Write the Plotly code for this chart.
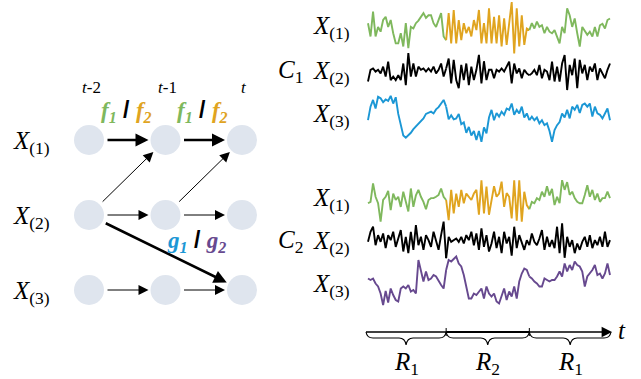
import plotly.graph_objects as go

W, H = 641, 379

# ---------------- data ----------------
time_labels = ["<i>t</i>-2", "<i>t</i>-1", "<i>t</i>"]
row_subs = ["(1)", "(2)", "(3)"]
node_cols = [0, 1, 2]
node_rows = [0, 1, 2]
# edges: (row_from, col_from, row_to, col_to, thick)
edges = [
    (0, 0, 0, 1, True), (0, 1, 0, 2, True),
    (1, 0, 1, 1, False), (1, 1, 1, 2, False),
    (2, 0, 2, 1, False), (2, 1, 2, 2, False),
    (1, 0, 0, 1, False), (1, 1, 0, 2, False),
    (1, 0, 2, 2, True),
]
regime_bounds = [0, 31, 64, 96]
regime_names = ["1", "2", "1"]

c1_x1 = [6.0, 3.5, 8.2, 3.5, 5.3, 4.4, 6.6, 7.2, 5.3, 6.6, 4.1, 2.2, 2.2, 4.1, 1.6, 6.0,
         1.3, 5.3, 5.0, 6.0, 6.5, 7.2, 7.9, 7.0, 7.5, 7.5, 6.0, 5.3, 6.5, 7.9, 3.5, 2.8,
         7.9, 2.2, 8.5, 2.2, 6.6, 2.8, 6.0, 4.1, 5.3, 3.5, 6.6, 4.7, 8.5, 2.2, 6.0, 2.2,
         8.8, 2.2, 7.2, 2.2, 7.5, 1.6, 6.9, 1.9, 6.0, 10.0, 0.3, 8.8, 1.6, 7.5, 1.9, 5.0, 4.7,
         6.0, 5.0, 6.3, 5.3, 5.6, 4.1, 5.3, 4.4, 4.1, 4.7, 3.5, 2.2, 5.3, 4.1, 8.8, 7.5,
         5.3, 6.9, 4.1, 1.6, 5.3, 4.4, 3.8, 4.4, 3.5, 5.3, 3.5, 5.6, 5.9, 5.0, 6.6, 6.9]
c1_x2 = [3.0, 5.6, 5.9, 5.2, 5.6, 4.8, 6.3, 4.1, 7.4, 3.3, 4.1, 3.3, 4.4, 3.3, 7.0, 2.2,
         9.3, 4.1, 7.0, 4.1, 6.3, 5.6, 5.9, 5.2, 5.9, 5.2, 6.3, 4.8, 5.6, 7.0, 4.1, 5.9,
         8.1, 2.6, 7.8, 3.3, 1.5, 6.7, 3.3, 7.0, 2.2, 6.3, 3.3, 5.6, 8.9, 2.6, 7.5, 3.3, 5.6,
         5.6, 3.7, 5.6, 5.2, 5.9, 5.2, 6.3, 7.4, 2.6, 7.0, 4.8, 5.9, 3.7, 5.6, 4.8, 4.4,
         4.8, 5.6, 4.4, 6.7, 3.7, 5.6, 5.2, 3.3, 7.4, 3.0, 6.3, 3.0, 7.0, 8.9, 1.1, 6.7,
         4.4, 8.1, 1.5, 7.8, 4.8, 6.7, 3.3, 6.3, 5.2, 7.0, 3.3, 5.9, 4.8, 3.7, 5.6, 7.0]
c1_x3 = [4.4, 7.4, 8.9, 7.0, 9.6, 9.3, 8.4, 9.0, 8.7, 9.8, 8.1, 9.5, 5.8, 3.5, 1.0, 0.5,
         1.0, 1.6, 2.4, 3.0, 3.5, 4.2, 4.8, 5.8, 6.0, 6.3, 5.9, 6.8, 7.3, 8.1, 8.9, 7.4,
         4.6, 5.5, 4.6, 4.8, 5.8, 3.5, 3.9, 1.6, 2.9, 1.0, 2.0, 0.0, 2.0, -0.4, 2.8, 1.5, 5.0,
         6.7, 4.4, 6.0, 5.2, 6.3, 5.6, 7.0, 6.7, 8.1, 5.6, 6.7, 5.9, 7.4, 5.0, 5.9, 4.4,
         5.2, 4.4, 5.0, 3.7, 4.4, 3.3, 3.7, 2.0, -0.4, 2.2, 3.3, 4.0, 5.9, 5.0, 6.7, 4.8,
         7.4, 6.7, 7.8, 6.0, 7.8, 8.1, 7.4, 8.1, 5.2, 7.4, 5.9, 5.6, 4.8, 5.9, 7.0, 4.4]
c2_x1 = [4.3, 4.6, 8.6, 5.7, 4.3, 0.3, 5.0, 5.7, 7.0, 2.8, 6.4, 5.0, 5.7, 3.5, 6.8, 4.3,
         2.5, 7.5, 3.5, 6.0, 7.2, 5.7, 4.6, 3.0, 5.0, 5.4, 5.4, 5.7, 6.1, 7.5, 5.7, 5.0,
         0.6, 7.2, 2.1, 6.4, 3.5, 7.2, 4.3, 6.4, 5.7, 5.0, 6.4, 7.2, 1.8, 9.3, 2.1, 7.9,
         1.8, 5.0, 8.0, 5.7, 6.4, 9.0, 3.5, 6.5, 5.7, 1.0, 9.3, 0.5, 9.3, 0.3, 6.8, 3.9, 3.0,
         4.6, 4.3, 5.4, 5.0, 6.8, 5.7, 8.0, 6.0, 7.4, 3.9, 5.7, 4.3, 9.3, 7.2, 8.9, 6.1,
         6.8, 5.4, 4.6, 4.3, 4.3, 6.1, 8.2, 5.7, 7.2, 5.0, 6.4, 4.6, 5.4, 5.4, 6.8, 5.4]
c2_x2 = [4.8, 7.2, 8.4, 4.0, 6.4, 4.8, 6.8, 3.3, 6.4, 5.2, 7.2, 3.6, 5.6, 7.6, 2.5, 6.0,
         2.1, 7.2, 2.9, 8.8, 4.0, 6.0, 2.9, 6.4, 5.2, 3.6, 7.2, 5.2, 2.9, 6.4, 9.6, 0.9,
         6.0, 4.8, 5.2, 5.6, 4.8, 6.0, 4.4, 6.4, 5.2, 7.2, 4.0, 6.8, 2.9, 8.0, 3.6, 6.4, 2.5,
         4.4, 7.2, 3.3, 6.0, 2.1, 7.2, 4.4, 6.0, 1.5, 8.4, 3.3, 6.4, 4.4, 2.9, 5.2, 4.0,
         6.8, 4.8, 4.0, 5.6, 7.6, 2.9, 6.0, 3.6, 5.2, 3.3, 8.4, 2.1, 9.2, 1.0, 6.0, 3.6,
         5.2, 2.1, 4.4, 2.9, 4.8, 6.0, 3.6, 6.4, 3.3, 5.2, 4.0, 6.0, 3.6, 7.2, 3.6, 5.2]
c2_x3 = [5.3, 5.0, 5.3, 4.3, 3.7, 2.3, 0.0, 2.8, 0.5, 3.3, 2.0, 1.0, 0.7, 3.3, 3.7, 3.3,
         4.0, 2.7, 3.0, 2.3, 9.0, 7.0, 4.7, 6.7, 5.0, 5.3, 6.0, 5.7, 4.7, 4.0, 3.3, 7.0,
         9.0, 8.7, 9.3, 9.7, 8.3, 7.7, 6.0, 3.3, 1.3, 1.3, 2.3, 2.0, 2.7, 3.3, 1.3, 3.7, 2.3,
         1.7, 2.3, 0.7, 0.3, 1.7, 3.3, 1.0, 2.7, 1.7, 3.7, 1.3, 4.7, 6.3, 7.3, 7.0, 5.7,
         5.3, 4.7, 4.3, 3.7, 3.7, 5.3, 5.0, 4.7, 5.0, 5.0, 5.7, 6.7, 5.7, 8.3, 6.7, 8.0,
         7.0, 8.7, 8.0, 7.7, 6.7, 3.7, 5.7, 6.3, 7.0, 8.0, 6.0, 6.3, 5.3, 6.3, 8.3, 6.0]

# ---------------- style / geometry ----------------
GREEN = "#7fb85d"
ORANGE = "#e0a41f"
BLUE = "#1b97d5"
PURPLE = "#67498f"
BLACK = "#000000"
NODE = "#dfe5ee"
SERIF = "Liberation Serif"
MATH = 25

COL_X = [89, 165.5, 242]
ROW_Y = [140, 215, 290]
NODE_R = 17
SER_X0, SER_X1 = 368, 610

fig = go.Figure()
layout = dict(
    width=W, height=H, margin=dict(l=0, r=0, t=0, b=0),
    paper_bgcolor="white", plot_bgcolor="rgba(0,0,0,0)",
    showlegend=False, hovermode=False,
    xaxis=dict(domain=[0, 1], range=[0, W], visible=False, fixedrange=True),
    yaxis=dict(domain=[0, 1], range=[H, 0], visible=False, fixedrange=True),
)

# nodes
nx, ny = [], []
for r in node_rows:
    for c in node_cols:
        nx.append(COL_X[c])
        ny.append(ROW_Y[r])
fig.add_trace(go.Scatter(x=nx, y=ny, mode="markers",
                         marker=dict(size=30, color=NODE, line=dict(width=0)),
                         hoverinfo="skip"))

annotations = []
shapes = []

# arrows
for (r0, c0, r1, c1, thick) in edges:
    x0, y0 = COL_X[c0], ROW_Y[r0]
    x1, y1 = COL_X[c1], ROW_Y[r1]
    dx, dy = x1 - x0, y1 - y0
    L = (dx * dx + dy * dy) ** 0.5
    ux, uy = dx / L, dy / L
    annotations.append(dict(
        x=x1 - ux * NODE_R, y=y1 - uy * NODE_R,
        ax=x0 + ux * NODE_R, ay=y0 + uy * NODE_R,
        xref="x", yref="y", axref="x", ayref="y", text="",
        showarrow=True, arrowhead=2,
        arrowwidth=2.6 if thick else 1.0,
        arrowsize=1.0 if thick else 2.0,
        arrowcolor="black", standoff=0, startstandoff=0))

# row labels (left)
for r in node_rows:
    annotations.append(dict(x=31, y=ROW_Y[r] + 2, xref="x", yref="y",
                            text=f"<i>X</i><sub>{row_subs[r]}</sub>",
                            showarrow=False, font=dict(family=SERIF, size=MATH, color="black")))
# time labels
for c in node_cols:
    annotations.append(dict(x=COL_X[c] + 2, y=87, xref="x", yref="y", text=time_labels[c],
                            showarrow=False, font=dict(family=SERIF, size=17, color="black")))


def pair(a, ca, b, cb, sa, sb):
    return (f'<span style="color:{ca}">{a}<sub>{sa}</sub></span>'
            f'<span style="font-family:Liberation Sans;font-style:normal"> / </span>'
            f'<span style="color:{cb}">{b}<sub>{sb}</sub></span>')


bold_it = dict(family=SERIF, size=23, color="black", weight="bold", style="italic")
for c in [0, 1]:
    annotations.append(dict(x=(COL_X[c] + COL_X[c + 1]) / 2 - 1, y=111, xref="x", yref="y",
                            text=pair("f", GREEN, "f", ORANGE, "1", "2"), showarrow=False,
                            font=bold_it))
annotations.append(dict(x=196, y=241, xref="x", yref="y",
                        text=pair("g", BLUE, "g", PURPLE, "1", "2"), showarrow=False,
                        font=bold_it))

# ---------------- time series ----------------
groups = [
    ("1", [(c1_x1, (2, 55), [GREEN, ORANGE, GREEN], 25),
           (c1_x2, (50, 95), [BLACK, BLACK, BLACK], 70),
           (c1_x3, (95, 140), [BLUE, BLUE, BLUE], 113)], 70),
    ("2", [(c2_x1, (177, 223), [GREEN, ORANGE, GREEN], 197),
           (c2_x2, (220, 262), [BLACK, BLACK, BLACK], 240),
           (c2_x3, (255, 305), [PURPLE, PURPLE, PURPLE], 283)], 240),
]

k = 2
for gname, series, cy in groups:
    annotations.append(dict(x=290, y=cy + 1, xref="x", yref="y",
                            text=f"<i>C</i><sub>{gname}</sub>", showarrow=False,
                            font=dict(family=SERIF, size=MATH, color="black")))
    for j, (vals, (top, bot), cols, ly) in enumerate(series):
        n = len(vals)
        ppx = (SER_X1 - SER_X0) / (n - 1)
        ppu = (bot - top) / 10.0
        dtop, dbot = max(0, top - 8), min(H, bot + 8)
        layout[f"xaxis{k}"] = dict(domain=[(SER_X0 - 5) / W, (SER_X1 + 5) / W],
                                   range=[-5 / ppx, (n - 1) + 5 / ppx],
                                   visible=False, anchor=f"y{k}", fixedrange=True)
        layout[f"yaxis{k}"] = dict(domain=[1 - dbot / H, 1 - dtop / H],
                                   range=[(bot - dbot) / ppu, (bot - dtop) / ppu],
                                   visible=False, anchor=f"x{k}", fixedrange=True)
        for s in range(3):
            a, b = regime_bounds[s], regime_bounds[s + 1]
            fig.add_trace(go.Scatter(x=list(range(a, b + 1)), y=vals[a:b + 1], mode="lines",
                                     line=dict(color=cols[s], width=1.9),
                                     xaxis=f"x{k}", yaxis=f"y{k}", hoverinfo="skip"))
        annotations.append(dict(x=331, y=ly + 2, xref="x", yref="y",
                                text=f"<i>X</i><sub>{row_subs[j]}</sub>", showarrow=False,
                                font=dict(family=SERIF, size=MATH, color="black")))
        k += 1

# ---------------- timeline with regimes ----------------
n = len(c1_x1)
ppx = (SER_X1 - SER_X0) / (n - 1)


def px(i):
    return SER_X0 + i * ppx


TY = 332
bx = [px(regime_bounds[0]) - 2, px(regime_bounds[1]), px(regime_bounds[2]), px(regime_bounds[3]) + 1]
for s in range(3):
    shapes.append(dict(type="line", xref="x", yref="y", x0=bx[s], x1=bx[s + 1] - (2 if s == 2 else 0),
                       y0=TY, y1=TY, line=dict(color="black", width=2.2 if s == 1 else 1.3)))
annotations.append(dict(x=bx[3] + 1, y=TY, ax=bx[3] - 8, ay=TY, xref="x", yref="y", axref="x", ayref="y",
                        text="", showarrow=True, arrowhead=2, arrowwidth=1.3, arrowsize=1.6,
                        arrowcolor="black", standoff=0))
for s in [1, 2]:
    shapes.append(dict(type="line", xref="x", yref="y", x0=bx[s], x1=bx[s], y0=TY - 4, y1=TY + 4,
                       line=dict(color="black", width=1)))
annotations.append(dict(x=622, y=TY - 2, xref="x", yref="y", text="<i>t</i>", showarrow=False,
                        font=dict(family=SERIF, size=MATH, color="black")))

for s in range(3):
    x0, x1 = bx[s], bx[s + 1]
    xm = (x0 + x1) / 2
    h1, h2 = TY + 6, TY + 13
    q = 7
    path = (f"M {x0},{TY} Q {x0 + 1},{h1} {x0 + q},{h1} L {xm - q},{h1} "
            f"Q {xm - 1},{h1} {xm},{h2} Q {xm + 1},{h1} {xm + q},{h1} "
            f"L {x1 - q},{h1} Q {x1 - 1},{h1} {x1},{TY}")
    shapes.append(dict(type="path", xref="x", yref="y", path=path,
                       line=dict(color="black", width=1.1)))
    annotations.append(dict(x=xm, y=363, xref="x", yref="y",
                            text=f"<i>R</i><sub>{regime_names[s]}</sub>", showarrow=False,
                            font=dict(family=SERIF, size=MATH, color="black")))

layout["annotations"] = annotations
layout["shapes"] = shapes
fig.update_layout(**layout)
fig.write_html("out.html", config={"displayModeBar": False, "staticPlot": True},
               post_script="document.body.style.margin='0px';document.body.style.overflow='hidden';")
